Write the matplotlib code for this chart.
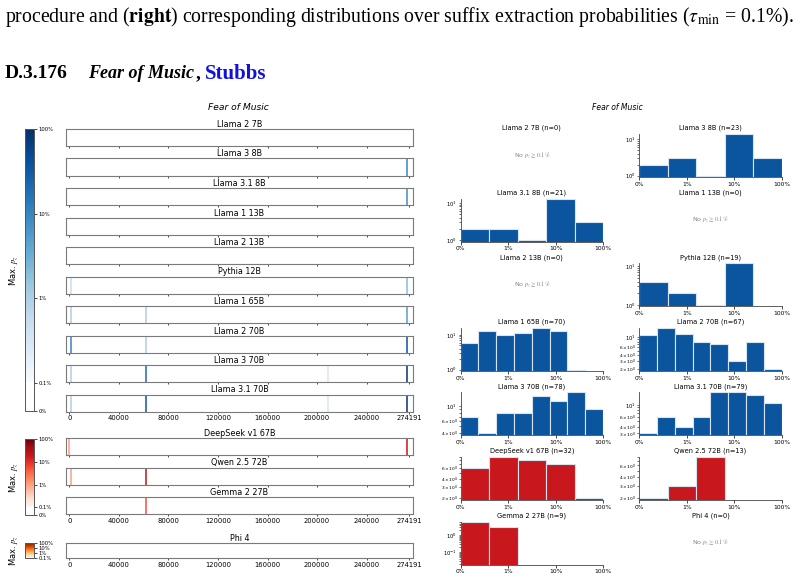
import numpy as np
import matplotlib
matplotlib.use("Agg")
import matplotlib.pyplot as plt
from matplotlib.colors import SymLogNorm, LogNorm, ListedColormap
from matplotlib.cm import ScalarMappable

plt.rcParams['mathtext.fontset'] = 'stix'

W, H = 803, 579

models = ["Llama 2 7B", "Llama 3 8B", "Llama 3.1 8B", "Llama 1 13B", "Llama 2 13B",
          "Pythia 12B", "Llama 1 65B", "Llama 2 70B", "Llama 3 70B", "Llama 3.1 70B",
          "DeepSeek v1 67B", "Qwen 2.5 72B", "Gemma 2 27B", "Phi 4"]
book_len = 274191
strip_ticks = [0, 40000, 80000, 120000, 160000, 200000, 240000, 274191]

# extracted suffix positions (characters) and max p_z at each one
strip_pos = [[], [273000], [273000], [], [],
             [1200, 273000], [1200, 61800, 273000], [1300, 61800, 273000],
             [1200, 61800, 208500, 273000], [1200, 61800, 208500, 273000],
             [0, 273000], [1200, 61800], [61800], []]
strip_p = [[], [0.10], [0.08], [], [],
           [0.005, 0.02], [0.01, 0.01, 0.05], [0.10, 0.01, 0.40],
           [0.01, 0.20, 0.003, 0.90], [0.01, 0.35, 0.003, 0.90],
           [0.01, 0.20], [0.01, 0.25], [0.05], []]

# histogram counts over log-spaced bins from 0.1% to 100%
hist_counts = [[], [2, 3, 1, 14, 3], [2, 2, 1, 13, 3], [], [],
               [4, 2, 1, 12, 0], [6, 13, 10, 11, 16, 13, 1, 0],
               [11, 16, 12, 8, 7, 3, 8, 2], [7, 4, 8, 8, 14, 12, 16, 9],
               [3, 6, 4, 6, 17, 17, 15, 11], [6, 9, 8, 7, 2], [2, 3, 8, 0, 0],
               [6, 3, 0, 0, 0], []]

group = ["Blues"] * 10 + ["Reds"] * 3 + ["Oranges"]
bar_color = {"Blues": "#0b559f", "Reds": "#c9181d", "Oranges": "#d94801"}

fig = plt.figure(figsize=(W / 100, H / 100), dpi=100)


def ax_px(x0, y0, x1, y1):
    return fig.add_axes([x0 / W, 1 - y1 / H, (x1 - x0) / W, (y1 - y0) / H])


# ---- header text
serif = "Liberation Serif"
fig.text(5 / W, 1 - 17 / H,
         r"procedure and ($\mathbf{right}$) corresponding distributions over suffix "
         r"extraction probabilities ($\tau_{\min}$ = 0.1%).",
         family=serif, fontsize=14.2, va="center", ha="left")
fig.text(5 / W, 1 - 74 / H, "D.3.176", family=serif, weight="bold",
         fontsize=14, va="center")
fig.text(88 / W, 1 - 74 / H, "Fear of Music", family=serif, weight="bold",
         style="italic", fontsize=13, va="center")
fig.text(196 / W, 1 - 74 / H, ",", family=serif, weight="bold",
         fontsize=14, va="center")
fig.text(205 / W, 1 - 74 / H, "Stubbs", family=serif, weight="bold",
         fontsize=15, va="center", color="#1010e0")

# ---- colour scales
sym_norm = SymLogNorm(linthresh=1e-3, linscale=0.3, vmin=0, vmax=1, base=10)


def white_low(name):
    base = plt.get_cmap(name)
    n = 256
    k = int(round(float(sym_norm(1e-3)) * n))
    cols = np.vstack([np.ones((k, 4)), base(np.linspace(0, 1, n - k))])
    return ListedColormap(cols)


cmaps = {"Blues": white_low("Blues"), "Reds": white_low("Reds")}
phi_norm = LogNorm(vmin=1e-3, vmax=1)

# ---- left: strips
fig.text(238 / W, 1 - 108 / H, "Fear of Music", style="italic", fontsize=6.6,
         ha="center", va="center")

strip_tops = [129 + i * 29.5 for i in range(10)] + [438 + j * 29.5 for j in range(3)] + [543]
last_in_group = {9, 12, 13}
for i, name in enumerate(models):
    top = strip_tops[i]
    h = 15 if i == 13 else 17
    ax = ax_px(66, top, 413, top + h)
    ax.set_xlim(-0.01 * book_len, 1.012 * book_len)
    ax.set_ylim(0, 1)
    ax.set_yticks([])
    if group[i] == "Oranges":
        cm, nm = plt.get_cmap("Oranges"), phi_norm
    else:
        cm, nm = cmaps[group[i]], sym_norm
    if strip_pos[i]:
        ax.vlines(strip_pos[i], 0, 1, colors=cm(nm(np.array(strip_p[i]))), lw=1.1)
    ax.set_xticks(strip_ticks)
    ax.tick_params(axis="x", length=1.2, width=0.5, labelsize=4.9, pad=1.5,
                   labelbottom=i in last_in_group)
    for s in ax.spines.values():
        s.set_color("#7a7a7a")
        s.set_linewidth(0.8)
    ax.set_title(name, fontsize=5.8, pad=1.2)

# colorbars
cb_specs = [(129, 411, "Blues"), (439, 515, "Reds"), (543, 558, "Oranges")]
for y0, y1, g in cb_specs:
    cax = ax_px(25, y0, 34, y1)
    if g == "Oranges":
        sm = ScalarMappable(norm=phi_norm, cmap="Oranges")
        ticks = [1e-3, 1e-2, 1e-1, 1]
        labels = ["0.1%", "1%", "10%", "100%"]
    else:
        sm = ScalarMappable(norm=sym_norm, cmap=cmaps[g])
        ticks = [0, 1e-3, 1e-2, 1e-1, 1]
        labels = ["0%", "0.1%", "1%", "10%", "100%"]
    cb = fig.colorbar(sm, cax=cax)
    cb.set_ticks(ticks)
    cb.set_ticklabels(labels)
    cb.ax.minorticks_off()
    cb.ax.tick_params(labelsize=3.8, length=2, width=0.5, pad=1)
    cb.outline.set_edgecolor("#555555")
    cb.outline.set_linewidth(0.7)
    fig.text(14 / W, 1 - (y0 + y1) / 2 / H, r"Max. $p_z$", rotation=90, fontsize=6,
             ha="center", va="center", family="DejaVu Sans")

# ---- right: histograms
fig.text(617 / W, 1 - 107 / H, "Fear of Music", style="italic", fontsize=5.5,
         ha="center", va="center")

col_x = [(460.7, 603), (639, 782)]
for i, name in enumerate(models):
    r, c = divmod(i, 2)
    top = 134 + r * 64.6
    ax = ax_px(col_x[c][0], top, col_x[c][1], top + 43)
    counts = np.array(hist_counts[i], dtype=float)
    n = int(counts.sum())
    ax.set_title(f"{name} (n={n})", fontsize=4.8, pad=3)
    if n == 0:
        ax.axis("off")
        ax.text(0.5, 0.5, r"No $p_z \geq 0.1\%$", transform=ax.transAxes,
                ha="center", va="center", fontsize=4.6, color="#888888")
        continue
    ax.set_xscale("log")
    ax.set_yscale("log")
    edges = np.logspace(-3, 0, len(counts) + 1)
    centers = np.sqrt(edges[:-1] * edges[1:])
    ax.hist(centers, bins=edges, weights=counts, color=bar_color[group[i]],
            edgecolor="#d6e4f2", linewidth=0.8)
    ax.set_xlim(1e-3, 1)
    if name == "Gemma 2 27B":
        ax.set_ylim(0.018, 6.6)
    else:
        ax.set_ylim(counts[counts > 0].min() * 0.92, counts.max())
    ax.set_xticks([1e-3, 1e-2, 1e-1, 1])
    ax.set_xticklabels(["0%", "1%", "10%", "100%"])
    ax.xaxis.set_minor_locator(matplotlib.ticker.NullLocator())
    ax.tick_params(axis="x", labelsize=4.3, length=2, width=0.5, pad=1.5)
    ax.tick_params(axis="y", which="major", labelsize=3.8, length=1.5, width=0.4, pad=1)
    ax.tick_params(axis="y", which="minor", labelsize=3.2, length=1.2, width=0.4, pad=1)
    ax.spines["top"].set_visible(False)
    ax.spines["right"].set_visible(False)
    for s in ("left", "bottom"):
        ax.spines[s].set_linewidth(0.6)
        ax.spines[s].set_color("#444444")

fig.savefig("out.png", dpi=100)
